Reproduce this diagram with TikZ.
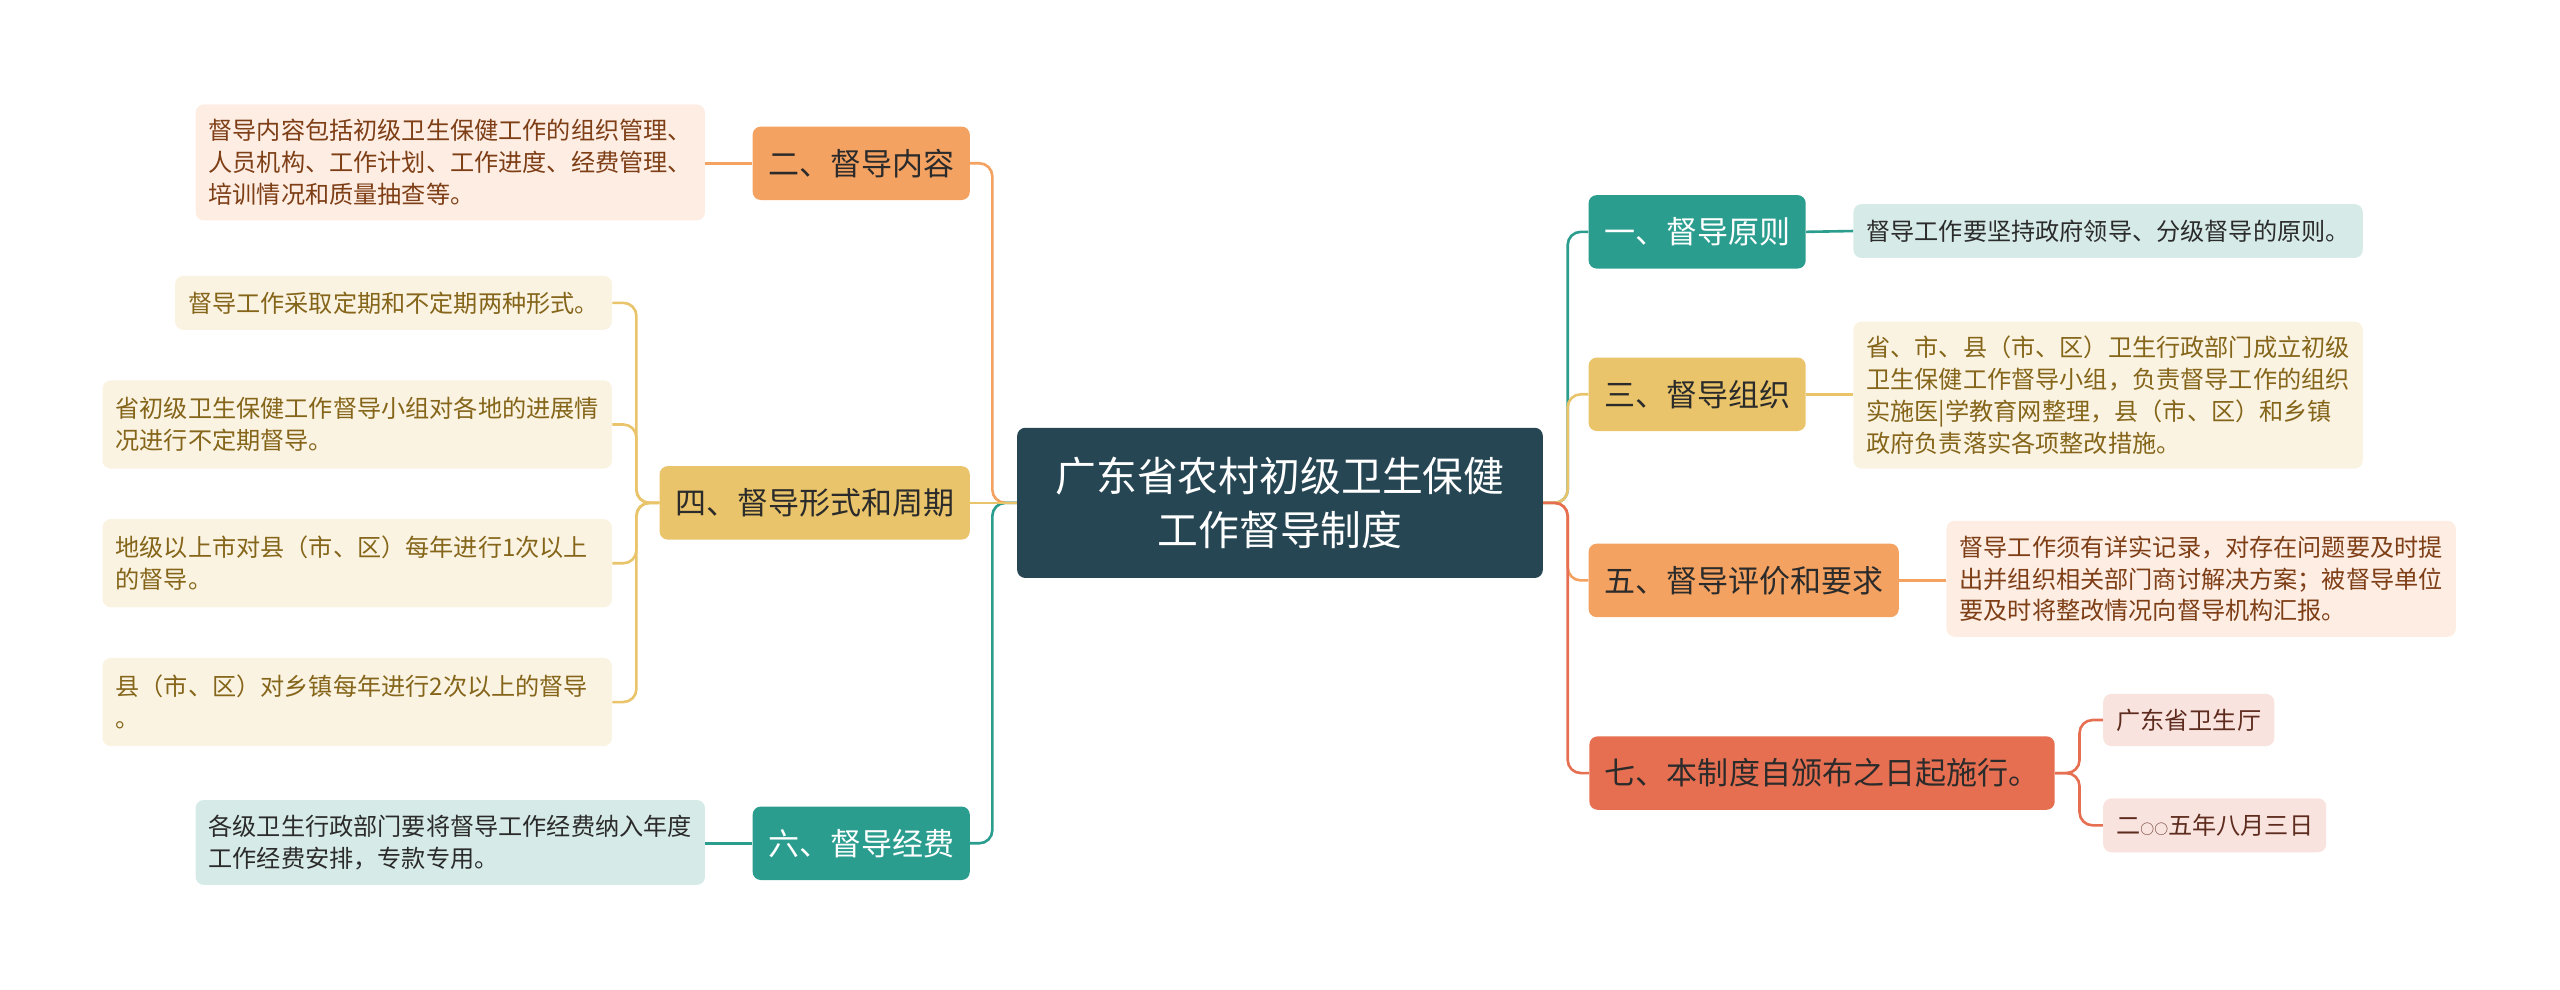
\documentclass[tikz,border=0pt]{standalone}
\usepackage{fontspec}
\setmainfont{Noto Sans CJK SC}
\definecolor{cdark}{HTML}{264653}
\definecolor{cteal}{HTML}{2A9D8F}
\definecolor{cgold}{HTML}{E9C46A}
\definecolor{corange}{HTML}{F4A261}
\definecolor{ccoral}{HTML}{E76F51}
\definecolor{lteal}{HTML}{D6EBE8}
\definecolor{lgold}{HTML}{FBF3E1}
\definecolor{lorange}{HTML}{FDEDE3}
\definecolor{lcoral}{HTML}{F9E3DE}
\definecolor{tgold}{HTML}{84651A}
\definecolor{torange}{HTML}{7E3E16}
\definecolor{tcoral}{HTML}{5E2C1E}
\definecolor{tdark}{HTML}{2B2B2B}
\newcommand{\smallcirc}{{\fontsize{8.5}{10}\selectfont ○}}
\tikzset{
  rootbox/.style={fill=cdark, rounded corners=5pt, text=white, align=center,
    font=\fontsize{25}{33}\selectfont, minimum width=322pt, minimum height=92pt, inner sep=0pt},
  brbox/.style={rounded corners=5pt, minimum height=45pt, inner xsep=9.5pt, inner ysep=0pt,
    font=\fontsize{19}{24}\selectfont},
  leafbox/.style={rounded corners=5pt, inner xsep=8pt, inner ysep=0pt,
    font=\fontsize{14.8}{19.5}\selectfont, align=left},
  wide/.style={text width=296pt},
  link/.style={line width=1.6pt, rounded corners=8pt},
}
\begin{document}
\begin{tikzpicture}[x=1pt,y=-1pt]
\useasboundingbox (0,0) rectangle (1568,606);
% root
\node[rootbox] (c) at (784,308) {广东省农村初级卫生保健\\工作督导制度};
% right branches
\node[brbox, fill=cteal, text=white] (b1) at (1039.5,142) {一、督导原则};
\node[brbox, fill=cgold, text=tdark] (b3) at (1039.5,241.5) {三、督导组织};
\node[brbox, fill=corange, text=tdark] (b5) at (1068,355.5) {五、督导评价和要求};
\node[brbox, fill=ccoral, text=tdark] (b7) at (1116,473.5) {七、本制度自颁布之日起施行。};
% left branches
\node[brbox, fill=corange, text=tdark] (b2) at (527.5,100) {二、督导内容};
\node[brbox, fill=cgold, text=tdark] (b4) at (499,308) {四、督导形式和周期};
\node[brbox, fill=cteal, text=white] (b6) at (527.5,516.5) {六、督导经费};
% right leaves
\node[leafbox, fill=lteal, text=tdark, minimum height=33pt, anchor=west] (l1) at (1135,141.5)
  {督导工作要坚持政府领导、分级督导的原则。};
\node[leafbox, wide, fill=lgold, text=tgold, minimum height=90pt, anchor=west] (l3) at (1135,242)
  {省、市、县（市、区）卫生行政部门成立初级\\卫生保健工作督导小组，负责督导工作的组织\\实施医|学教育网整理，县（市、区）和乡镇\\政府负责落实各项整改措施。};
\node[leafbox, wide, fill=lorange, text=torange, minimum height=71pt, anchor=west] (l5) at (1192,354.5)
  {督导工作须有详实记录，对存在问题要及时提\\出并组织相关部门商讨解决方案；被督导单位\\要及时将整改情况向督导机构汇报。};
\node[leafbox, fill=lcoral, text=tcoral, minimum height=32pt, anchor=west] (l7a) at (1288,441)
  {广东省卫生厅};
\node[leafbox, fill=lcoral, text=tcoral, minimum height=33pt, minimum width=136pt, anchor=west] (l7b) at (1288,505.5)
  {二\smallcirc\smallcirc 五年八月三日};
% left leaves
\node[leafbox, wide, fill=lorange, text=torange, minimum height=71pt, anchor=east] (l2) at (432,99.5)
  {督导内容包括初级卫生保健工作的组织管理、\\人员机构、工作计划、工作进度、经费管理、\\培训情况和质量抽查等。};
\node[leafbox, fill=lgold, text=tgold, minimum height=33pt, anchor=east] (l4a) at (375,185.5)
  {督导工作采取定期和不定期两种形式。};
\node[leafbox, wide, fill=lgold, text=tgold, minimum height=54pt, anchor=east] (l4b) at (375,260)
  {省初级卫生保健工作督导小组对各地的进展情\\况进行不定期督导。};
\node[leafbox, wide, fill=lgold, text=tgold, minimum height=54pt, anchor=east] (l4c) at (375,345)
  {地级以上市对县（市、区）每年进行1次以上\\的督导。};
\node[leafbox, wide, fill=lgold, text=tgold, minimum height=54pt, anchor=east] (l4d) at (375,430)
  {县（市、区）对乡镇每年进行2次以上的督导\\。};
\node[leafbox, wide, fill=lteal, text=tdark, minimum height=52pt, anchor=east] (l6) at (432,516)
  {各级卫生行政部门要将督导工作经费纳入年度\\工作经费安排，专款专用。};
% root connectors right
\draw[link, draw=cteal] (c.east) -- ([xshift=15pt]c.east) |- (b1.west);
\draw[link, draw=cgold] (c.east) -- ([xshift=15pt]c.east) |- (b3.west);
\draw[link, draw=corange] (c.east) -- ([xshift=15pt]c.east) |- (b5.west);
\draw[link, draw=ccoral] (c.east) -- ([xshift=15pt]c.east) |- (b7.west);
% root connectors left
\draw[link, draw=corange] (c.west) -- ([xshift=-15pt]c.west) |- (b2.east);
\draw[link, draw=cteal] (c.west) -- ([xshift=-15pt]c.west) |- (b6.east);
\draw[link, draw=cgold] (c.west) -- (b4.east);
% branch to leaf
\draw[link, draw=cteal] (b1.east) -- (l1.west);
\draw[link, draw=cgold] (b3.east) -- (b3.east -| l3.west);
\draw[link, draw=corange] (b5.east) -- (b5.east -| l5.west);
\draw[link, draw=ccoral] (b7.east) -- ([xshift=15pt]b7.east) |- (l7a.west);
\draw[link, draw=ccoral] (b7.east) -- ([xshift=15pt]b7.east) |- (l7b.west);
\draw[link, draw=corange] (b2.east -| l2.east) -- (b2.west);
\draw[link, draw=cgold] (b4.west) -- ([xshift=-14pt]b4.west) |- (l4a.east);
\draw[link, draw=cgold] (b4.west) -- ([xshift=-14pt]b4.west) |- (l4b.east);
\draw[link, draw=cgold] (b4.west) -- ([xshift=-14pt]b4.west) |- (l4c.east);
\draw[link, draw=cgold] (b4.west) -- ([xshift=-14pt]b4.west) |- (l4d.east);
\draw[link, draw=cteal] (b6.west) -- (b6.west -| l6.east);
\end{tikzpicture}
\end{document}
